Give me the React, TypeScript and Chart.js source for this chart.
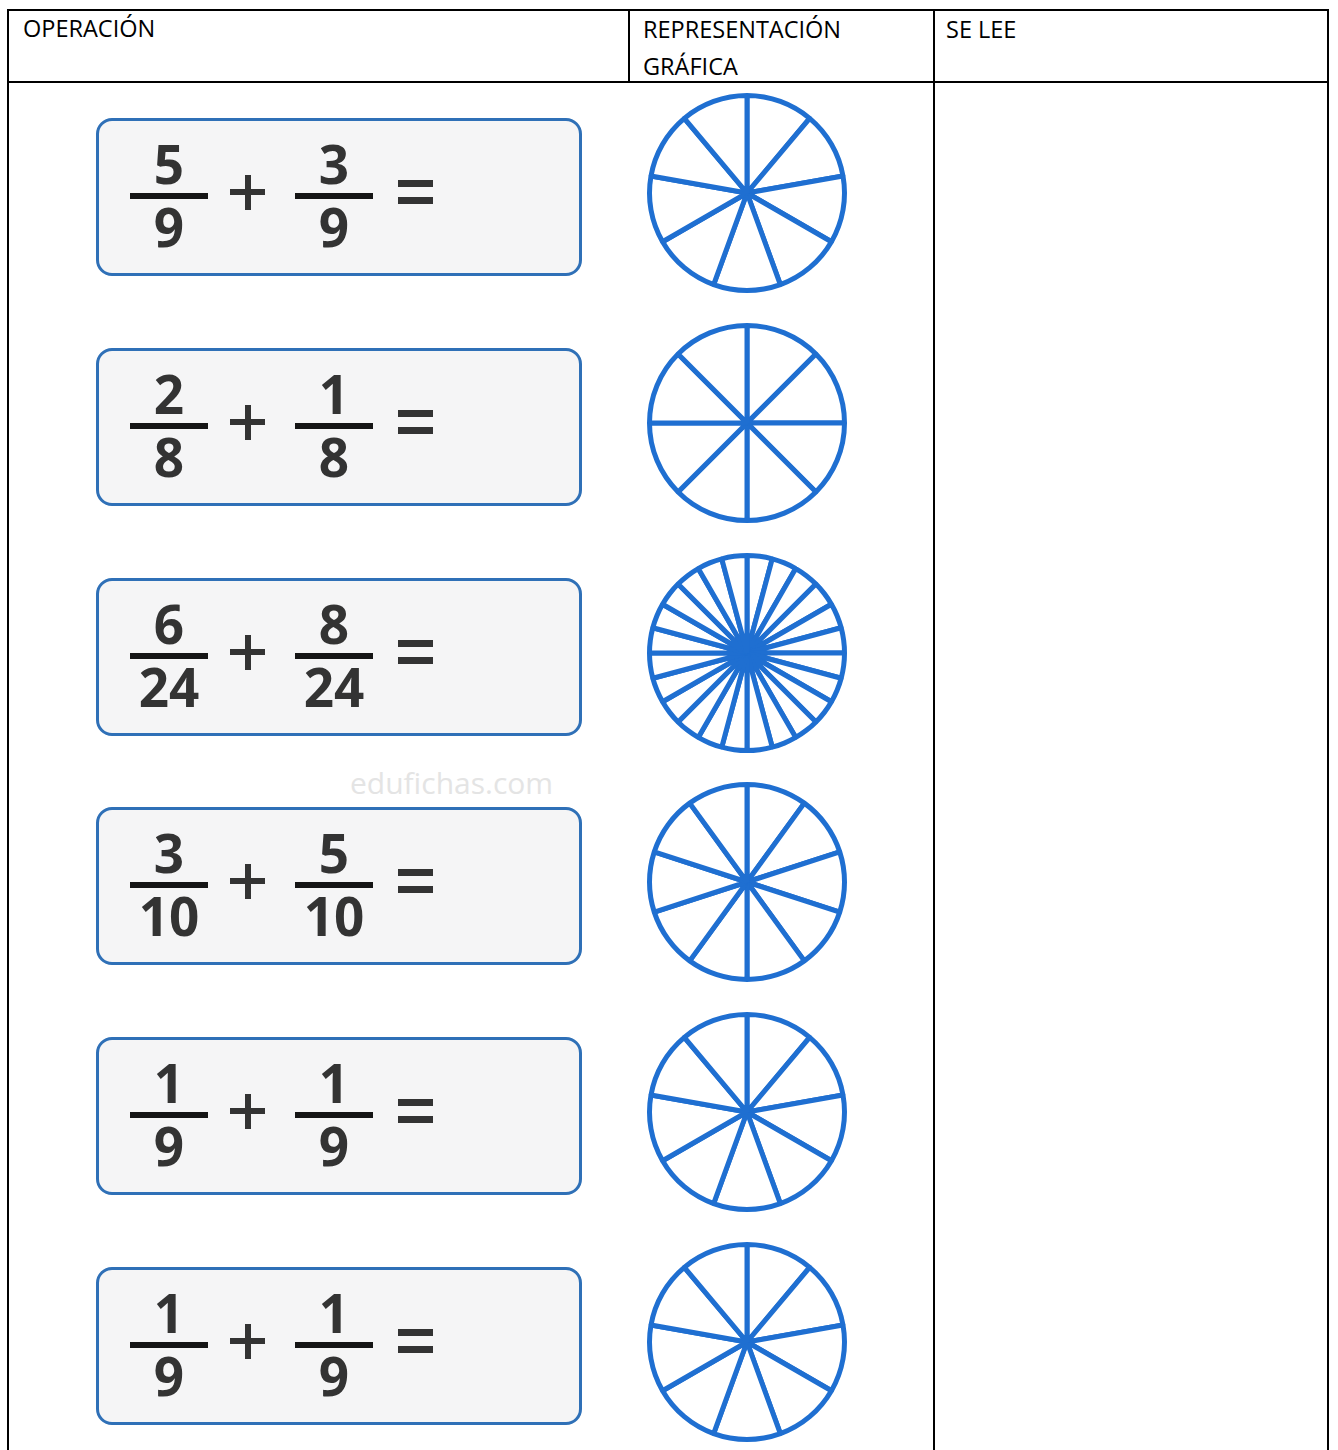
import React, { useEffect, useRef } from "react";
import { Chart, registerables } from "chart.js";

Chart.register(...registerables);

// ---- data ----
const HEADERS = ["OPERACIÓN", "REPRESENTACIÓN", "GRÁFICA", "SE LEE"];
const NUMERATORS_A = [5, 2, 6, 3, 1, 1];
const NUMERATORS_B = [3, 1, 8, 5, 1, 1];
const DENOMINATORS = [9, 8, 24, 10, 9, 9];
const WATERMARK = "edufichas.com";

// ---- layout ----
const ROW_PITCH = 229.8;
const BOX_TOP0 = 118;
const CIRCLE_CX = 747;
const CIRCLE_CY0 = 193;
const CANVAS = 210;
const BLUE = "#1f6fd1";
const BOX_BLUE = "#2f70b7";
const INK = "#333333";

function Wheel({ parts, cx, cy }: { parts: number; cx: number; cy: number }) {
  const ref = useRef<HTMLCanvasElement | null>(null);
  useEffect(() => {
    if (!ref.current) return;
    const slices = new Array(parts).fill(1);
    const chart = new Chart(ref.current, {
      type: "pie",
      data: {
        labels: slices.map((_, i) => String(i + 1)),
        datasets: [
          {
            data: slices,
            backgroundColor: "#ffffff",
            borderColor: BLUE,
            borderWidth: 5,
            borderJoinStyle: "bevel",
          },
        ],
      },
      options: {
        responsive: false,
        animation: false,
        events: [],
        layout: { padding: 5 },
        plugins: { legend: { display: false }, tooltip: { enabled: false } },
      },
    });
    return () => chart.destroy();
  }, [parts]);
  return (
    <canvas
      ref={ref}
      width={CANVAS}
      height={CANVAS}
      style={{
        position: "absolute",
        left: cx - CANVAS / 2,
        top: cy - CANVAS / 2,
        width: CANVAS,
        height: CANVAS,
      }}
    />
  );
}

const abs = (s: React.CSSProperties): React.CSSProperties => ({ position: "absolute", ...s });

function Fraction({ num, den, left, top }: { num: number; den: number; left: number; top: number }) {
  const digit: React.CSSProperties = {
    position: "absolute",
    left,
    width: 78,
    textAlign: "center",
    fontFamily: "'Open Sans', sans-serif",
    fontWeight: 700,
    fontSize: 53,
    lineHeight: "52px",
    color: INK,
    whiteSpace: "nowrap",
  };
  return (
    <>
      <div style={{ ...digit, top: top + 20 }}>{num}</div>
      <div style={abs({ left, top: top + 75, width: 78, height: 6, background: "#151515" })} />
      <div style={{ ...digit, top: top + 83 }}>{den}</div>
    </>
  );
}

function Row({ i }: { i: number }) {
  const T = Math.round(BOX_TOP0 + ROW_PITCH * i);
  return (
    <>
      <div
        style={abs({
          left: 96,
          top: T,
          width: 486,
          height: 158,
          boxSizing: "border-box",
          border: `3px solid ${BOX_BLUE}`,
          borderRadius: 16,
          background: "#f5f5f6",
        })}
      />
      <Fraction num={NUMERATORS_A[i]} den={DENOMINATORS[i]} left={130} top={T} />
      <div style={abs({ left: 230, top: T + 71, width: 35, height: 6, background: INK })} />
      <div style={abs({ left: 244.5, top: T + 57, width: 6, height: 35, background: INK })} />
      <Fraction num={NUMERATORS_B[i]} den={DENOMINATORS[i]} left={295} top={T} />
      <div style={abs({ left: 398, top: T + 62, width: 35, height: 7, background: INK })} />
      <div style={abs({ left: 398, top: T + 79, width: 35, height: 7, background: INK })} />
      <Wheel parts={DENOMINATORS[i]} cx={CIRCLE_CX} cy={Math.round(CIRCLE_CY0 + ROW_PITCH * i)} />
    </>
  );
}

export default function App() {
  const head: React.CSSProperties = {
    position: "absolute",
    fontFamily: "'Open Sans', sans-serif",
    fontSize: 23.5,
    lineHeight: "36.5px",
    color: "#000",
    whiteSpace: "nowrap",
  };
  return (
    <div
      style={{
        position: "absolute",
        left: 0,
        top: 0,
        width: 1338,
        height: 1450,
        overflow: "hidden",
        background: "#ffffff",
      }}
    >
      {/* table lines */}
      <div style={abs({ left: 7, top: 9, width: 1322, height: 2, background: "#000" })} />
      <div style={abs({ left: 7, top: 9, width: 2, height: 1441, background: "#000" })} />
      <div style={abs({ left: 1327, top: 9, width: 2, height: 1441, background: "#000" })} />
      <div style={abs({ left: 628, top: 9, width: 2, height: 74, background: "#000" })} />
      <div style={abs({ left: 933, top: 9, width: 2, height: 1441, background: "#000" })} />
      <div style={abs({ left: 7, top: 81, width: 1322, height: 2, background: "#000" })} />

      {/* headers */}
      <div style={{ ...head, left: 23, top: 10 }}>{HEADERS[0]}</div>
      <div style={{ ...head, left: 643, top: 11 }}>{HEADERS[1]}</div>
      <div style={{ ...head, left: 643, top: 47.5 }}>{HEADERS[2]}</div>
      <div style={{ ...head, left: 946, top: 11 }}>{HEADERS[3]}</div>

      {/* watermark */}
      <div
        style={{
          position: "absolute",
          left: 350,
          top: 763,
          fontFamily: "'Open Sans', sans-serif",
          fontSize: 30,
          lineHeight: "40px",
          color: "#e4e4e4",
          whiteSpace: "nowrap",
        }}
      >
        {WATERMARK}
      </div>

      {DENOMINATORS.map((_, i) => (
        <Row key={i} i={i} />
      ))}
    </div>
  );
}
